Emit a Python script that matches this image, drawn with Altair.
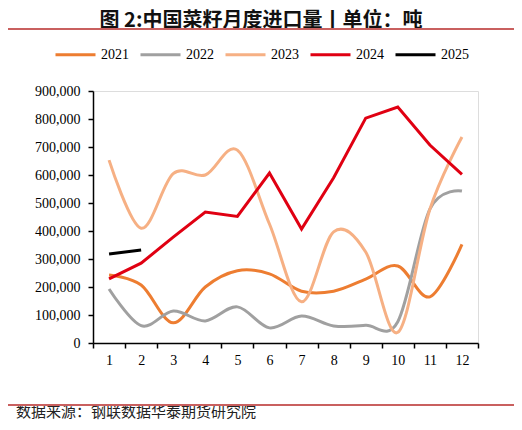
import altair as alt
import pandas as pd

months = list(range(1, 13))
years = ["2021", "2022", "2023", "2024", "2025"]
v2021 = [243000, 207000, 72000, 200000, 258000, 247000, 185000, 185000, 228000, 275000, 165000, 352000]
v2022 = [193000, 62000, 114000, 79000, 129000, 54000, 96000, 61000, 63000, 76000, 478000, 543000]
v2023 = [653000, 410000, 605000, 600000, 689000, 425000, 147000, 397000, 325000, 38000, 478000, 736000]
v2024 = [229000, 285000, 378000, 468000, 452000, 607000, 407000, 590000, 803000, 843000, 707000, 602000]
v2025 = [318000, 332000]
colors = ["#ED7D31", "#A0A0A0", "#F6B084", "#E00012", "#000000"]
y_ticks = [0, 100000, 200000, 300000, 400000, 500000, 600000, 700000, 800000, 900000]

title_text = "图 2:中国菜籽月度进口量丨单位：吨"
source_text = "数据来源：钢联数据华泰期货研究院"

rows = []
for yr, vals in zip(years, [v2021, v2022, v2023, v2024, v2025]):
    for m, v in zip(months, vals):
        rows.append({"month": str(m), "year": yr, "value": v})
df = pd.DataFrame(rows)

SERIF = "Liberation Serif, Times New Roman, serif"

x_enc = alt.X(
    "month:O",
    sort=[str(m) for m in months],
    scale=alt.Scale(type="band", paddingInner=0, paddingOuter=0),
    axis=alt.Axis(
        title=None, labelAngle=0, tickBand="extent", tickSize=5, tickWidth=1.5,
        domainColor="black", domainWidth=1.5, tickColor="black",
        labelFont=SERIF, labelFontSize=14, labelColor="black", labelPadding=5,
    ),
)
y_enc = alt.Y(
    "value:Q",
    scale=alt.Scale(domain=[0, 900000], nice=False),
    axis=alt.Axis(
        title=None, values=y_ticks, format=",d", grid=False, tickSize=5, tickWidth=1.5,
        domainColor="black", domainWidth=1.5, tickColor="black",
        labelFont=SERIF, labelFontSize=14, labelColor="black", labelPadding=8,
    ),
)
color_enc = alt.Color(
    "year:N",
    scale=alt.Scale(domain=years, range=colors),
    legend=alt.Legend(
        title=None, orient="none", direction="horizontal", legendX=-39, legendY=-58,
        symbolType="stroke", symbolStrokeWidth=3, symbolSize=1600,
        labelFont=SERIF, labelFontSize=14, labelColor="black", labelOffset=4,
        columnPadding=5,
    ),
)

smooth = alt.Chart(df).transform_filter(
    alt.FieldOneOfPredicate(field="year", oneOf=["2021", "2022", "2023"])
).mark_line(interpolate="cardinal", tension=0, strokeWidth=3).encode(
    x=x_enc, y=y_enc, color=color_enc, detail="year:N"
)
straight = alt.Chart(df).transform_filter(
    alt.FieldOneOfPredicate(field="year", oneOf=["2024", "2025"])
).mark_line(strokeWidth=3).encode(
    x=x_enc, y=y_enc, color=color_enc, detail="year:N"
)

one = pd.DataFrame({"t": [title_text]})
title = alt.Chart(one).mark_text(
    font="Noto Sans CJK SC", fontSize=20, fontWeight="bold", color="#111111",
    align="center", baseline="middle",
).encode(text="t:N", x=alt.value(168), y=alt.value(-70))

src = alt.Chart(pd.DataFrame({"t": [source_text]})).mark_text(
    font="Noto Sans CJK SC", fontSize=15, color="#222222",
    align="left", baseline="middle",
).encode(text="t:N", x=alt.value(-77), y=alt.value(321))

top_line = alt.Chart(one).mark_rule(color="#C9605F", strokeWidth=2).encode(
    x=alt.value(-88), x2=alt.value(424), y=alt.value(-62)
)
bot_line = alt.Chart(one).mark_rule(color="#C9605F", strokeWidth=2).encode(
    x=alt.value(-88), x2=alt.value(424), y=alt.value(314)
)

chart = alt.layer(smooth, straight, title, src, top_line, bot_line).properties(
    width=385, height=252,
    padding={"left": 85, "top": 83, "right": 36, "bottom": 79},
    autosize=alt.AutoSizeParams(type="none"),
).configure_view(stroke=None).configure(background="white")

chart.save("out.html", embed_options={"renderer": "svg", "actions": False})
